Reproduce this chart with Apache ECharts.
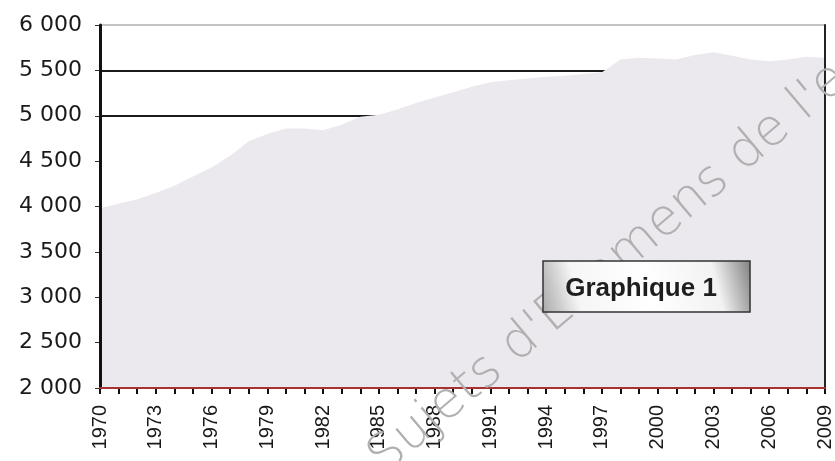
<!DOCTYPE html>
<html>
<head>
<meta charset="UTF-8">
<title>Graphique 1</title>
<script src="https://cdn.jsdelivr.net/npm/echarts@6/dist/echarts.min.js"></script>
<style>
  html, body { margin: 0; padding: 0; background: #fff; }
  #chart { width: 835px; height: 461px; }
</style>
</head>
<body>
<div id="chart"></div>
<script>
// années
var years = [];
for (var y = 1970; y <= 2009; y++) years.push(String(y));

// valeurs
var values = [
  3980, 4030, 4080, 4150, 4230, 4330, 4430, 4560, 4720, 4800,
  4860, 4860, 4840, 4900, 4990, 5010, 5070, 5140, 5200, 5260,
  5320, 5370, 5390, 5410, 5430, 5440, 5460, 5480, 5620, 5640,
  5630, 5620, 5670, 5700, 5660, 5620, 5600, 5620, 5650, 5640
];

var yTicks = [2000, 2500, 3000, 3500, 4000, 4500, 5000, 5500, 6000];

function fmt(v) {
  var s = String(v);
  return s.length > 3 ? s.slice(0, s.length - 3) + ' ' + s.slice(-3) : s;
}

var font = 'Liberation Sans, Arial, sans-serif';
var chart = echarts.init(document.getElementById('chart'));
chart.setOption({
  animation: false,
  grid: { left: 100, right: 3, top: 25, bottom: 73 },
  xAxis: [{
    type: 'category',
    data: years,
    boundaryGap: false,
    axisLine: { show: false },
    axisTick: { show: true, interval: 0, length: 6, lineStyle: { color: '#111', width: 2 } },
    axisLabel: {
      interval: 2, rotate: 90, color: '#1a1a1a', fontSize: 20,
      fontFamily: font, margin: 17
    },
    splitLine: { show: false }
  }, {
    // ligne de l'axe au-dessus de l'aire
    type: 'category',
    data: years,
    boundaryGap: false,
    position: 'bottom',
    z: 10,
    axisLine: { show: true, lineStyle: { color: '#a83232', width: 2 } },
    axisTick: { show: false },
    axisLabel: { show: false }
  }],
  yAxis: [{
    type: 'value',
    min: yTicks[0], max: yTicks[yTicks.length - 1], interval: 500,
    axisLine: { show: false },
    axisTick: { show: true, length: 5, lineStyle: { color: '#333' } },
    axisLabel: {
      color: '#1a1a1a', fontSize: 22, fontFamily: 'DejaVu Sans',
      margin: 18, formatter: fmt
    },
    splitLine: {
      show: true,
      lineStyle: {
        color: ['rgba(0,0,0,0)', 'rgba(0,0,0,0)', 'rgba(0,0,0,0)', 'rgba(0,0,0,0)',
                'rgba(0,0,0,0)', 'rgba(0,0,0,0)', '#1a1a1a', '#1a1a1a', '#c4c4c4'],
        width: 2
      }
    }
  }, {
    type: 'value',
    min: yTicks[0], max: yTicks[yTicks.length - 1],
    position: 'left',
    z: 10,
    axisLine: { show: true, lineStyle: { color: '#111', width: 3 } },
    axisTick: { show: false }, axisLabel: { show: false }, splitLine: { show: false }
  }, {
    type: 'value',
    min: yTicks[0], max: yTicks[yTicks.length - 1],
    position: 'right',
    z: 10,
    axisLine: { show: true, lineStyle: { color: '#222', width: 2 } },
    axisTick: { show: false }, axisLabel: { show: false }, splitLine: { show: false }
  }],
  series: [{
    type: 'line',
    data: values,
    xAxisIndex: 0,
    yAxisIndex: 0,
    symbol: 'none',
    lineStyle: { width: 0 },
    areaStyle: { color: '#ebe8ee', opacity: 1 },
    z: 3
  }],
  graphic: [
    {
      type: 'text',
      x: 376, y: 465,
      rotation: 0.7,
      z: 15,
      style: {
        text: "Sujets d'Examens de l'enseignement",
        fontSize: 51, fontFamily: 'DejaVu Sans', fontWeight: 200,
        fill: '#b0b0b0', verticalAlign: 'middle'
      }
    },
    {
      type: 'rect',
      x: 543, y: 261,
      z: 20,
      shape: { x: 0, y: 0, width: 207, height: 51 },
      style: {
        fill: new echarts.graphic.LinearGradient(0, 1, 1, 0, [
          { offset: 0, color: '#a8a8a8' },
          { offset: 0.18, color: '#f6f6f6' },
          { offset: 0.5, color: '#ffffff' },
          { offset: 0.82, color: '#f2f2f2' },
          { offset: 1, color: '#808080' }
        ]),
        stroke: '#333', lineWidth: 1.5
      }
    },
    {
      type: 'text',
      x: 641, y: 289,
      z: 21,
      style: {
        text: 'Graphique 1',
        align: 'center', verticalAlign: 'middle',
        fontSize: 26, fontWeight: 'bold',
        fontFamily: font, fill: '#1e1e1e'
      }
    }
  ]
});
</script>
</body>
</html>
